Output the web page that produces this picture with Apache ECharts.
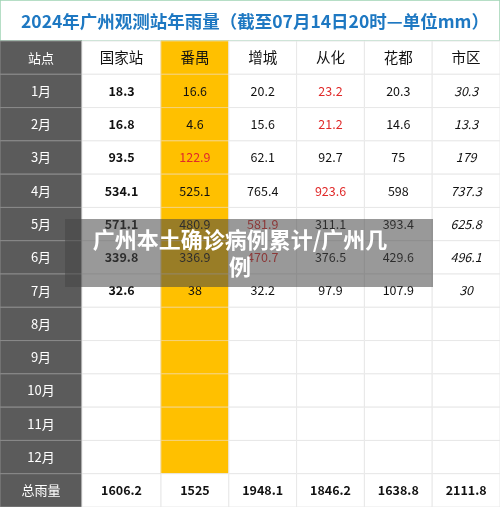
<!DOCTYPE html><html><head><meta charset="utf-8">
<script src="https://cdn.jsdelivr.net/npm/echarts@6/dist/echarts.min.js"></script>
<style>html,body{margin:0;padding:0;background:#fff}#c{width:500px;height:507px}</style></head><body><div id="c"></div>
<script>
const stations=['国家站','番禺','增城','从化','花都','市区'];
const rowLabels=['站点','1月','2月','3月','4月','5月','6月','7月','8月','9月','10月','11月','12月','总雨量'];
const guojia=['18.3','16.8','93.5','534.1','571.1','339.8','32.6'];
const panyu=['16.6','4.6','122.9','525.1','480.9','336.9','38'];
const zengcheng=['20.2','15.6','62.1','765.4','581.9','470.7','32.2'];
const conghua=['23.2','21.2','92.7','923.6','311.1','376.5','97.9'];
const huadu=['20.3','14.6','75','598','393.4','429.6','107.9'];
const shiqu=['30.3','13.3','179','737.3','625.8','496.1','30'];
const totals=['1606.2','1525','1948.1','1846.2','1638.8','2111.8'];
const redCells=[[0,3],[1,3],[2,1],[3,3],[4,2],[5,2]]; // [monthIndex, stationIndex]
const cols=[guojia,panyu,zengcheng,conghua,huadu,shiqu];
const title='2024年广州观测站年雨量（截至07月14日20时—单位mm）';
const overlay='广州本土确诊病例累计/广州几\n例';

const font='"Noto Sans CJK SC","Liberation Sans",sans-serif';
function cells(sIdx){
  const out=[];
  sIdx.forEach((s,k)=>{
    out.push([k,0,stations[s],s]);
    for(let m=0;m<12;m++) out.push([k,m+1,cols[s][m]!==undefined?cols[s][m]:'',s]);
    out.push([k,13,totals[s],s]);
  });
  return out;
}
const dataA=cells([0]), dataB=cells([1,2,3,4,5]);
const labelData=rowLabels.map((r,i)=>[0,i,r]);
function isRed(s,r){return redCells.some(c=>c[0]===r-1&&c[1]===s);}
function mk(data,xi){
  return {type:'custom',xAxisIndex:xi,yAxisIndex:xi,data:data.map(d=>[d[0],d[1]]),renderItem(p,api){
    const d=data[p.dataIndex];const s=d[3],r=d[1];const c=api.coord([d[0],r]);const w=api.size([1,1]);
    const fill=(s===1&&r<13)?'#ffc000':'#fff';
    const weight=((s===0&&r>0)||r===13)?'bold ':'';
    const it=(s===5&&r>0&&r<13)?'italic ':'';
    const color=isRed(s,r)?'#e02a2a':'#111';
    return {type:'group',children:[
      {type:'rect',shape:{x:c[0]-w[0]/2,y:c[1]-w[1]/2,width:w[0],height:w[1]},style:{fill:fill,stroke:fill==='#fff'?'#e8e8e8':'#f5d27a',lineWidth:1}},
      {type:'text',x:c[0],y:c[1],style:{text:d[2],fill:color,font:it+weight+(r===0?'14.5px ':'12.5px ')+font,align:'center',verticalAlign:'middle'}}]};
  }};
}
const chart=echarts.init(document.getElementById('c'));
chart.setOption({
  animation:false,
  title:{text:title,left:16,top:8,textStyle:{color:'#1e78c2',fontSize:17.5,fontWeight:'bold',fontFamily:font}},
  grid:[{left:0,width:82,top:41,bottom:-6},{left:82,width:79,top:41,bottom:-6},{left:161,right:0,top:41,bottom:-6}],
  xAxis:[{type:'category',gridIndex:0,data:['a'],show:false},{type:'category',gridIndex:1,data:[stations[0]],show:false},{type:'category',gridIndex:2,data:stations.slice(1),show:false}],
  yAxis:[0,1,2].map(i=>({type:'category',gridIndex:i,data:rowLabels,inverse:true,show:false})),
  graphic:[
    {type:'rect',shape:{x:0,y:0,width:500,height:41},style:{fill:'none',stroke:'#9fd4b4',lineWidth:1.5},z:0},
    {type:'rect',shape:{x:65,y:219,width:368,height:68},style:{fill:'rgba(70,70,70,0.55)'},z:100},
    {type:'text',x:240,y:253,style:{text:overlay,fill:'#fff',font:'bold 22px '+font,align:'center',verticalAlign:'middle',lineHeight:27},z:101}
  ],
  series:[
    {type:'custom',xAxisIndex:0,yAxisIndex:0,data:labelData.map(d=>[d[0],d[1]]),renderItem(p,api){
      const c=api.coord([0,api.value(1)]);const w=api.size([1,1]);
      return {type:'group',children:[
        {type:'rect',shape:{x:c[0]-w[0]/2,y:c[1]-w[1]/2,width:w[0],height:w[1]},style:{fill:'#5b5b5b',stroke:'#8a8a8a',lineWidth:1}},
        {type:'text',x:c[0],y:c[1],style:{text:rowLabels[api.value(1)],fill:'#fff',font:'13px '+font,align:'center',verticalAlign:'middle'}}]};
    }},
    mk(dataA,1), mk(dataB,2)
  ]
});
</script></body></html>
